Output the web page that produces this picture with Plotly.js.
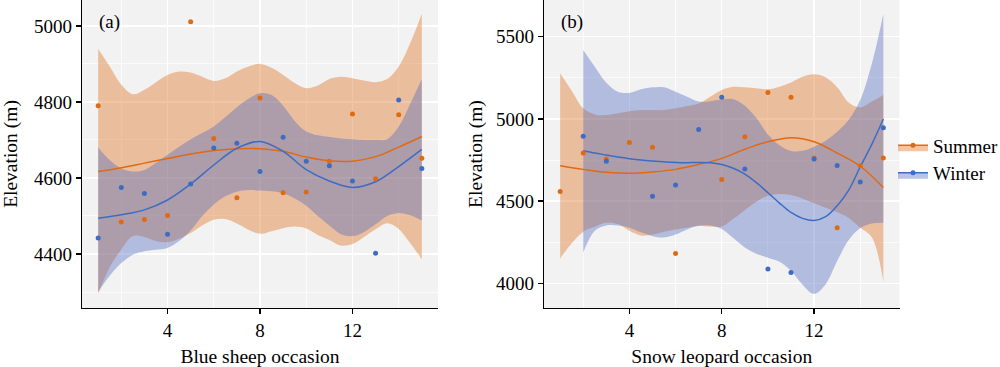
<!DOCTYPE html>
<html>
<head>
<meta charset="utf-8">
<script src="https://cdn.plot.ly/plotly-3.0.1.min.js"></script>
<style>html,body{margin:0;padding:0;background:#fff;}#chart{width:1000px;height:367px;}</style>
</head>
<body>
<div id="chart"></div>
<script>
// ---------- Panel (a): Blue sheep ----------
const occA = [1,2,3,4,5,6,7,8,9,10,11,12,13,14,15];
const sheepSummerPts = [4790,4484,4491,4501,5011,4704,4548,4810,4561,4563,4644,4768,4598,4766,4652];
const sheepWinterPts = [4442,4575,4559,4452,4584,4679,4691,4617,4707,4644,4632,4592,4402,4805,4625];

const sheepSummerFit = [4617,4627,4639,4651,4663,4672,4677,4677,4670,4655,4645,4644,4656,4681,4709];
const sheepWinterFit = [4494,4503,4516,4542,4584,4634,4678,4696,4670,4622,4592,4575,4590,4630,4675];

const bandX = [1,1.5,2,2.5,3,3.5,4,4.5,5,5.5,6,6.5,7,7.5,8,8.5,9,9.5,10,10.5,11,11.5,12,12.5,13,13.5,14,14.5,15];
const sheepSummerUpper = [4939,4893,4845,4820,4832,4852,4871,4880,4877,4866,4855,4862,4880,4893,4900,4890,4871,4850,4836,4843,4860,4866,4862,4856,4852,4860,4893,4955,5032];
const sheepSummerLower = [4295,4365,4412,4447,4445,4434,4431,4440,4455,4475,4490,4492,4480,4464,4453,4460,4468,4472,4467,4450,4437,4422,4426,4445,4465,4481,4466,4428,4386];
const sheepWinterUpper = [4680,4647,4625,4617,4621,4640,4661,4682,4702,4718,4735,4760,4786,4808,4823,4818,4790,4750,4722,4712,4708,4704,4702,4700,4700,4702,4735,4795,4860];
const sheepWinterLower = [4301,4343,4376,4398,4407,4411,4416,4434,4462,4500,4530,4552,4564,4568,4567,4565,4560,4546,4527,4500,4475,4452,4447,4458,4478,4500,4508,4502,4488];

// ---------- Panel (b): Snow leopard ----------
const leoSummerX = [1,2,3,4,5,6,8,9,10,11,12,13,14,15];
const leoSummerPts = [4559,4792,4756,4857,4827,4182,4632,4892,5161,5131,4762,4338,4715,4762];
const leoWinterX = [2,3,5,6,7,8,9,10,11,12,13,14,15];
const leoWinterPts = [4894,4742,4529,4598,4936,5131,4695,4087,4066,4756,4717,4616,4946];

const leoSummerFitX = [1,2,3,4,5,6,7,8,9,10,11,12,13,14,15];
const leoSummerFit = [4715,4693,4675,4669,4677,4693,4723,4760,4815,4861,4886,4861,4792,4712,4583];
const leoWinterFitX = [2,2.5,3,3.5,4,4.5,5,5.5,6,6.5,7,7.5,8,8.5,9,9.5,10,10.5,11,11.5,12,12.5,13,13.5,14,14.5,15];
const leoWinterFit = [4806,4792,4780,4768,4758,4750,4744,4739,4735,4734,4735,4733,4722,4700,4664,4612,4551,4488,4431,4395,4382,4405,4472,4567,4709,4845,4999];

const leoSummerUpper = [5277,5171,5064,5027,5023,5034,5046,5054,5054,5054,5064,5078,5094,5135,5176,5195,5192,5186,5180,5196,5222,5257,5271,5253,5192,5100,5070,5105,5145];
const leoSummerLower = [4151,4243,4314,4344,4368,4360,4320,4291,4297,4314,4328,4338,4350,4345,4345,4392,4445,4496,4533,4543,4537,4515,4487,4460,4432,4398,4338,4280,4009];
const leoWinterBandX = [2,2.5,3,3.5,4,4.5,5,5.5,6,6.5,7,7.5,8,8.5,9,9.5,10,10.5,11,11.5,12,12.5,13,13.5,14,14.5,15];
const leoWinterUpper = [5419,5317,5220,5165,5158,5180,5192,5192,5165,5135,5105,5108,5118,5120,5080,5005,4905,4840,4805,4806,4831,4867,4922,4995,5115,5335,5638];
const leoWinterLower = [4188,4320,4352,4352,4338,4310,4287,4279,4297,4328,4350,4352,4330,4275,4218,4180,4155,4131,4076,3992,3936,3995,4135,4263,4336,4364,4368];

const ORANGE = '#DF6A12';
const BLUE = '#3D6CC4';
const ORANGE_FILL = 'rgba(222,112,27,0.4)';
const BLUE_FILL = 'rgba(82,107,192,0.4)';
const FONT = 'Liberation Serif, Times New Roman, serif';

function band(x, lo, hi, fill, xa, ya) {
  return [
    {x: x, y: lo, xaxis: xa, yaxis: ya, type: 'scatter', mode: 'lines',
     line: {width: 0, shape: 'spline', smoothing: 1}, showlegend: false, hoverinfo: 'skip'},
    {x: x, y: hi, xaxis: xa, yaxis: ya, type: 'scatter', mode: 'lines', fill: 'tonexty',
     fillcolor: fill, line: {width: 0, shape: 'spline', smoothing: 1}, showlegend: false, hoverinfo: 'skip'}
  ];
}
function fitLine(x, y, color, xa, ya) {
  return {x: x, y: y, xaxis: xa, yaxis: ya, type: 'scatter', mode: 'lines',
    line: {color: color, width: 1.5, shape: 'spline', smoothing: 1}, showlegend: false};
}
function pts(x, y, color, xa, ya) {
  return {x: x, y: y, xaxis: xa, yaxis: ya, type: 'scatter', mode: 'markers',
    marker: {color: color, size: 5}, showlegend: false};
}

const traces = [].concat(
  band(bandX, sheepSummerLower, sheepSummerUpper, ORANGE_FILL, 'x', 'y'),
  band(bandX, sheepWinterLower, sheepWinterUpper, BLUE_FILL, 'x', 'y'),
  [fitLine(occA, sheepSummerFit, ORANGE, 'x', 'y'),
   fitLine(occA, sheepWinterFit, BLUE, 'x', 'y'),
   pts(occA, sheepSummerPts, ORANGE, 'x', 'y'),
   pts(occA, sheepWinterPts, BLUE, 'x', 'y')],
  band(bandX, leoSummerLower, leoSummerUpper, ORANGE_FILL, 'x2', 'y2'),
  band(leoWinterBandX, leoWinterLower, leoWinterUpper, BLUE_FILL, 'x2', 'y2'),
  [fitLine(leoSummerFitX, leoSummerFit, ORANGE, 'x2', 'y2'),
   fitLine(leoWinterFitX, leoWinterFit, BLUE, 'x2', 'y2'),
   pts(leoSummerX, leoSummerPts, ORANGE, 'x2', 'y2'),
   pts(leoWinterX, leoWinterPts, BLUE, 'x2', 'y2')],
  [
    {x: [null], y: [null], type: 'scatter', mode: 'lines+markers', name: 'Summer', fill: 'toself',
     fillcolor: ORANGE_FILL, line: {color: ORANGE, width: 1.5}, marker: {color: ORANGE, size: 5}, showlegend: true},
    {x: [null], y: [null], type: 'scatter', mode: 'lines+markers', name: 'Winter', fill: 'toself',
     fillcolor: BLUE_FILL, line: {color: BLUE, width: 1.5}, marker: {color: BLUE, size: 5}, showlegend: true}
  ]
);

function xAxis(domain, title, anchor) {
  return {
    domain: domain, anchor: anchor, range: [0.3, 15.7], tick0: 0, dtick: 4,
    showline: true, linecolor: '#000', linewidth: 1.3, mirror: false,
    ticks: 'outside', ticklen: 5, tickwidth: 1.3, tickcolor: '#000',
    showgrid: true, gridcolor: '#FFFFFF', gridwidth: 1.4, zeroline: false,
    minor: {dtick: 2, tick0: 0, showgrid: true, gridcolor: '#FFFFFF', gridwidth: 0.7},
    tickfont: {family: FONT, size: 19, color: '#000'},
    title: {text: title, font: {family: FONT, size: 19.5, color: '#000'}, standoff: 14}
  };
}
function yAxis(range, dtick, tick0, anchor, standoff) {
  return {
    domain: [0.1608, 1], anchor: anchor, range: range, tick0: tick0, dtick: dtick,
    showline: true, linecolor: '#000', linewidth: 1.3, mirror: false,
    ticks: 'outside', ticklen: 5, tickwidth: 1.3, tickcolor: '#000',
    showgrid: true, gridcolor: '#FFFFFF', gridwidth: 1.4, zeroline: false,
    minor: {dtick: dtick / 2, tick0: tick0, showgrid: true, gridcolor: '#FFFFFF', gridwidth: 0.7},
    tickfont: {family: FONT, size: 19, color: '#000'},
    title: {text: 'Elevation (m)', font: {family: FONT, size: 19.5, color: '#000'}, standoff: standoff}
  };
}

const layout = {
  width: 1000, height: 367,
  margin: {l: 0, r: 0, t: 0, b: 0, autoexpand: false},
  paper_bgcolor: '#FFFFFF', plot_bgcolor: '#F2F2F2',
  font: {family: FONT, size: 19, color: '#000'},
  xaxis: xAxis([0.082, 0.438], 'Blue sheep occasion', 'y'),
  yaxis: yAxis([4258, 5068], 200, 4400, 'x', 18),
  xaxis2: xAxis([0.544, 0.8995], 'Snow leopard occasion', 'y2'),
  yaxis2: yAxis([3850, 5723], 500, 4000, 'x2', 8),
  legend: {x: 0.893, y: 0.566, xanchor: 'left', yanchor: 'middle', bgcolor: 'rgba(0,0,0,0)',
           traceorder: 'normal',
           font: {family: FONT, size: 19, color: '#000'}, itemwidth: 30, tracegroupgap: 0},
  annotations: [
    {text: '(a)', xref: 'paper', yref: 'paper', x: 0.097, y: 0.939, xanchor: 'left', yanchor: 'middle',
     showarrow: false, font: {family: FONT, size: 19, color: '#000'}},
    {text: '(b)', xref: 'paper', yref: 'paper', x: 0.559, y: 0.939, xanchor: 'left', yanchor: 'middle',
     showarrow: false, font: {family: FONT, size: 19, color: '#000'}}
  ],
  showlegend: true
};

Plotly.newPlot('chart', traces, layout, {displayModeBar: false, staticPlot: true});
</script>
</body>
</html>
